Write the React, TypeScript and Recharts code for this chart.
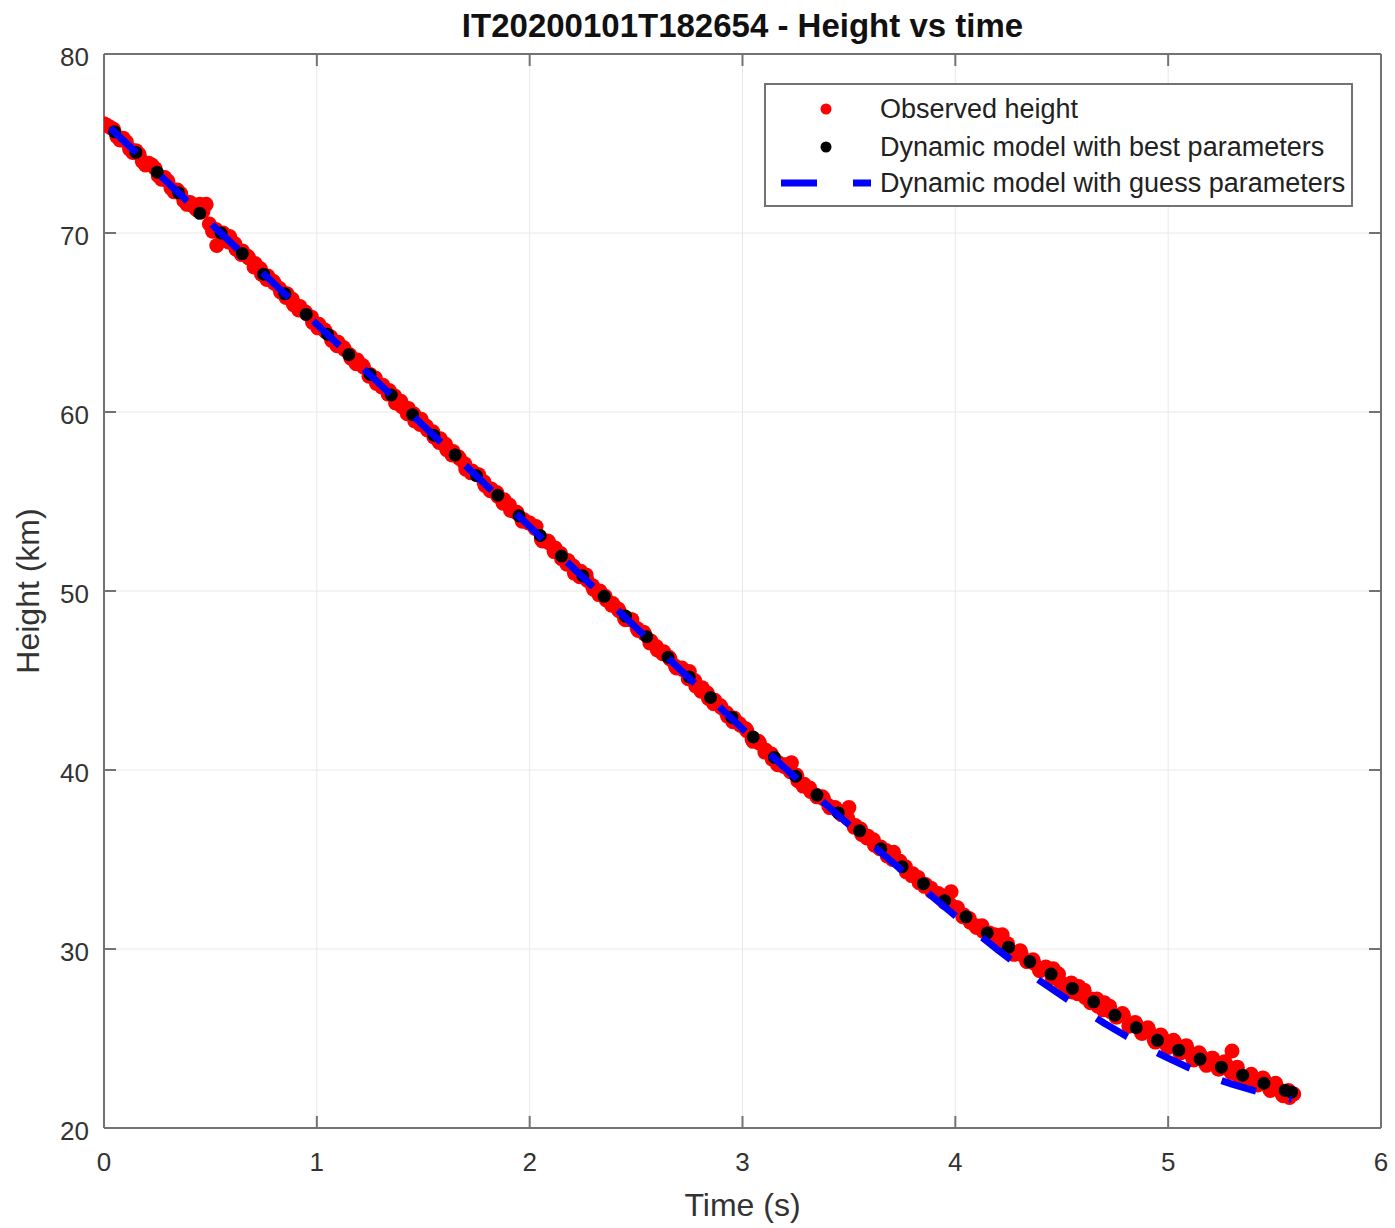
import { ScatterChart, Scatter, XAxis, YAxis, CartesianGrid, Legend, Label } from "recharts";

// time (s), height (km)
const observed: [number, number][] = [
  [0.0, 76.1], [0.03, 75.9], [0.06, 75.4], [0.09, 75.3], [0.12, 74.7], [0.15, 74.6], [0.18, 74.0], [0.21, 73.9],
  [0.24, 73.6], [0.27, 73.0], [0.3, 72.9], [0.33, 72.3], [0.36, 72.2], [0.39, 71.6], [0.42, 71.5], [0.45, 71.6],
  [0.48, 71.6], [0.51, 70.1], [0.53, 69.3], [0.56, 70.0], [0.59, 69.8], [0.62, 69.1], [0.65, 69.0], [0.68, 68.6],
  [0.71, 68.3], [0.74, 67.7], [0.77, 67.6], [0.8, 67.2], [0.83, 66.7], [0.86, 66.6], [0.89, 66.0], [0.92, 65.9],
  [0.95, 65.5], [0.98, 65.0], [1.01, 64.9], [1.04, 64.5], [1.07, 64.0], [1.1, 63.9], [1.13, 63.5], [1.16, 63.0],
  [1.19, 62.9], [1.22, 62.5], [1.25, 62.1], [1.28, 61.6], [1.31, 61.5], [1.34, 61.2], [1.37, 60.5], [1.4, 60.3],
  [1.43, 60.2], [1.46, 59.5], [1.49, 59.6], [1.52, 59.0], [1.55, 58.6], [1.58, 58.5], [1.61, 57.9], [1.64, 57.8],
  [1.67, 57.4], [1.7, 56.8], [1.73, 56.7], [1.76, 56.5], [1.79, 55.9], [1.82, 55.7], [1.85, 55.3], [1.88, 55.1],
  [1.91, 54.5], [1.94, 54.4], [1.97, 54.0], [2.0, 53.8], [2.03, 53.6], [2.06, 52.8], [2.09, 52.7], [2.12, 52.4],
  [2.15, 51.8], [2.18, 51.7], [2.21, 51.0], [2.24, 51.1], [2.27, 50.6], [2.3, 50.1], [2.33, 50.0], [2.36, 49.5],
  [2.39, 49.3], [2.42, 48.9], [2.45, 48.4], [2.48, 48.4], [2.51, 47.8], [2.54, 47.6], [2.57, 47.2], [2.6, 46.7],
  [2.63, 46.6], [2.66, 46.2], [2.69, 45.7], [2.72, 45.6], [2.75, 45.5], [2.78, 44.7], [2.81, 44.6], [2.84, 44.0],
  [2.87, 43.9], [2.9, 43.5], [2.93, 43.0], [2.96, 42.9], [2.99, 42.5], [3.02, 42.2], [3.05, 41.6], [3.08, 41.5],
  [3.11, 41.1], [3.14, 40.6], [3.17, 40.4], [3.2, 40.3], [3.23, 40.4], [3.26, 39.4], [3.29, 39.2], [3.32, 38.8],
  [3.35, 38.5], [3.38, 38.4], [3.41, 37.9], [3.44, 37.8], [3.47, 37.6], [3.5, 37.9], [3.53, 36.9], [3.56, 36.4],
  [3.59, 36.3], [3.62, 35.8], [3.65, 35.7], [3.68, 35.2], [3.71, 35.4], [3.74, 34.9], [3.77, 34.3], [3.8, 34.2],
  [3.83, 33.7], [3.86, 33.6], [3.89, 33.2], [3.92, 33.1], [3.95, 32.6], [3.98, 33.2], [4.01, 32.3], [4.04, 31.9],
  [4.07, 31.5], [4.1, 31.2], [4.13, 31.0], [4.16, 30.9], [4.19, 30.6], [4.22, 30.8], [4.25, 30.0], [4.28, 29.8],
  [4.31, 29.7], [4.34, 29.3], [4.37, 29.2], [4.4, 28.8], [4.43, 28.9], [4.46, 28.9], [4.49, 28.2], [4.52, 28.0],
  [4.55, 27.6], [4.58, 27.9], [4.61, 27.3], [4.64, 27.2], [4.67, 26.8], [4.7, 27.0], [4.73, 26.5], [4.76, 26.2],
  [4.79, 26.3], [4.82, 25.7], [4.85, 25.8], [4.88, 25.3], [4.91, 25.4], [4.94, 24.8], [4.97, 25.1], [5.0, 24.5],
  [5.03, 24.8], [5.06, 24.2], [5.09, 24.4], [5.12, 23.8], [5.15, 24.1], [5.18, 23.5], [5.21, 23.9], [5.24, 23.3],
  [5.27, 23.6], [5.3, 24.3], [5.33, 22.9], [5.36, 22.7], [5.39, 23.0], [5.42, 22.4], [5.45, 22.7], [5.48, 22.1],
  [5.51, 22.3], [5.54, 21.8], [5.57, 21.7], [5.59, 21.9],
];

// the observed samples falling between the ones above
const observedMid: [number, number][] = [
  [0.015, 76.0], [0.045, 75.8], [0.075, 75.2], [0.105, 75.1], [0.135, 74.5], [0.165, 74.4], [0.195, 73.8], [0.225, 73.8],
  [0.255, 73.2], [0.285, 73.1], [0.315, 72.5], [0.345, 72.4], [0.375, 71.8], [0.405, 71.7], [0.435, 71.3], [0.465, 71.2],
  [0.495, 70.5], [0.525, 70.2], [0.555, 69.9], [0.585, 69.5], [0.615, 69.4], [0.645, 68.8], [0.675, 68.7], [0.705, 68.1],
  [0.735, 68.0], [0.765, 67.4], [0.795, 67.3], [0.825, 66.9], [0.855, 66.4], [0.885, 66.3], [0.915, 65.7], [0.945, 65.6],
  [0.975, 65.3], [1.005, 64.7], [1.035, 64.6], [1.065, 64.2], [1.095, 63.7], [1.125, 63.6], [1.155, 63.2], [1.185, 62.7],
  [1.215, 62.6], [1.245, 62.0], [1.275, 61.9], [1.305, 61.4], [1.335, 61.0], [1.365, 60.9], [1.395, 60.6], [1.425, 59.9],
  [1.455, 59.9], [1.485, 59.3], [1.515, 59.2], [1.545, 58.9], [1.575, 58.3], [1.605, 58.2], [1.635, 57.6], [1.665, 57.5],
  [1.695, 57.1], [1.725, 56.6], [1.755, 56.5], [1.785, 56.1], [1.815, 55.6], [1.845, 55.5], [1.875, 54.9], [1.905, 54.8],
  [1.935, 54.4], [1.965, 53.9], [1.995, 53.8], [2.025, 53.5], [2.055, 52.9], [2.085, 52.8], [2.115, 52.2], [2.145, 52.1],
  [2.175, 51.5], [2.205, 51.4], [2.235, 50.8], [2.265, 50.9], [2.295, 50.3], [2.325, 49.8], [2.355, 49.7], [2.385, 49.2],
  [2.415, 49.0], [2.445, 48.5], [2.475, 48.4], [2.505, 47.9], [2.535, 47.7], [2.565, 47.1], [2.595, 46.9], [2.625, 46.5],
  [2.655, 46.3], [2.685, 45.8], [2.715, 45.7], [2.745, 45.1], [2.775, 45.0], [2.805, 44.4], [2.835, 44.3], [2.865, 43.7],
  [2.895, 43.6], [2.925, 43.2], [2.955, 42.7], [2.985, 42.6], [3.015, 42.3], [3.045, 41.7], [3.075, 41.6], [3.105, 41.0],
  [3.135, 40.9], [3.165, 40.3], [3.195, 40.2], [3.225, 39.9], [3.255, 39.7], [3.285, 39.1], [3.315, 39.0], [3.345, 38.6],
  [3.375, 38.5], [3.405, 38.0], [3.435, 37.9], [3.465, 37.5], [3.495, 37.3], [3.525, 36.8], [3.555, 36.7], [3.585, 36.2],
  [3.615, 36.1], [3.645, 35.6], [3.675, 35.5], [3.705, 35.0], [3.735, 34.9], [3.765, 34.6], [3.795, 34.1], [3.825, 34.0],
  [3.855, 33.5], [3.885, 33.4], [3.915, 33.0], [3.945, 32.9], [3.975, 32.5], [4.005, 32.3], [4.035, 31.8], [4.065, 31.7],
  [4.095, 31.3], [4.125, 31.3], [4.155, 30.7], [4.185, 30.8], [4.215, 30.3], [4.245, 30.3], [4.275, 29.7], [4.305, 29.9],
  [4.335, 29.3], [4.365, 29.4], [4.395, 28.8], [4.425, 29.0], [4.455, 28.4], [4.485, 28.6], [4.515, 27.9], [4.545, 28.1],
  [4.575, 27.5], [4.605, 27.7], [4.635, 27.0], [4.665, 27.2], [4.695, 26.6], [4.725, 26.8], [4.755, 26.2], [4.785, 26.4],
  [4.815, 25.7], [4.845, 25.9], [4.875, 25.3], [4.905, 25.6], [4.935, 24.9], [4.965, 25.2], [4.995, 24.6], [5.025, 24.9],
  [5.055, 24.2], [5.085, 24.6], [5.115, 23.9], [5.145, 24.2], [5.175, 23.6], [5.205, 23.9], [5.235, 23.3], [5.265, 23.7],
  [5.295, 23.1], [5.325, 23.4], [5.355, 22.8], [5.385, 22.9], [5.415, 22.5], [5.445, 22.8], [5.475, 22.2], [5.505, 22.5],
  [5.535, 21.9], [5.565, 22.1],
];

const bestModel: [number, number][] = [
  [0.05, 75.65], [0.15, 74.5], [0.25, 73.4], [0.35, 72.25], [0.45, 71.1], [0.55, 70.0], [0.65, 68.85], [0.75, 67.7],
  [0.85, 66.6], [0.95, 65.45], [1.05, 64.35], [1.15, 63.2], [1.25, 62.1], [1.35, 60.95], [1.45, 59.85], [1.55, 58.7],
  [1.65, 57.6], [1.75, 56.45], [1.85, 55.35], [1.95, 54.2], [2.05, 53.1], [2.15, 51.95], [2.25, 50.85], [2.35, 49.7],
  [2.45, 48.6], [2.55, 47.45], [2.65, 46.3], [2.75, 45.2], [2.85, 44.05], [2.95, 42.95], [3.05, 41.85], [3.15, 40.7],
  [3.25, 39.65], [3.35, 38.6], [3.45, 37.6], [3.55, 36.6], [3.65, 35.6], [3.75, 34.6], [3.85, 33.65], [3.95, 32.7],
  [4.05, 31.8], [4.15, 30.9], [4.25, 30.1], [4.35, 29.3], [4.45, 28.6], [4.55, 27.8], [4.65, 27.05], [4.75, 26.3],
  [4.85, 25.6], [4.95, 24.9], [5.05, 24.35], [5.15, 23.85], [5.25, 23.4], [5.35, 22.95], [5.45, 22.5], [5.55, 22.1],
  [5.58, 22.0],
];

const guessModel: [number, number][] = [
  [0.03, 75.86], [0.5, 70.55], [1.0, 64.9], [1.5, 59.25], [2.0, 53.6], [2.5, 47.95], [3.0, 42.3], [3.1, 41.2],
  [3.2, 40.1], [3.3, 39.05], [3.4, 38.0], [3.5, 36.95], [3.6, 35.9], [3.7, 34.9], [3.8, 33.85], [3.9, 32.85],
  [4.0, 31.85], [4.1, 30.9], [4.2, 29.95], [4.3, 29.05], [4.4, 28.2], [4.5, 27.4], [4.6, 26.6], [4.7, 25.85],
  [4.8, 25.15], [4.9, 24.5], [5.0, 23.9], [5.1, 23.35], [5.2, 22.85], [5.3, 22.45], [5.4, 22.1], [5.5, 21.8],
  [5.58, 21.6],
];

const xTicks = [0, 1, 2, 3, 4, 5, 6];
const yTicks = [20, 30, 40, 50, 60, 70, 80];
const legendNames = [
  "Observed height",
  "Dynamic model with best parameters",
  "Dynamic model with guess parameters",
];
const title = "IT20200101T182654 - Height vs time";

const AXIS = "#737373";
const TEXT = "#333333";
const TICK_LEN = 12;

const toPoints = (pairs: [number, number][]) => pairs.map(([t, h]) => ({ t, h }));

const XTick = (p: any) => (
  <g>
    <line x1={p.x} x2={p.x} y1={p.y} y2={p.y - TICK_LEN} stroke={AXIS} strokeWidth={2} />
    <text x={p.x} y={p.y + 43} textAnchor="middle" fontSize={26} fill={TEXT}>
      {p.payload.value}
    </text>
  </g>
);

const YTick = (p: any) => (
  <g>
    <line x1={p.x} x2={p.x + TICK_LEN} y1={p.y} y2={p.y} stroke={AXIS} strokeWidth={2} />
    <text x={p.x - 15} y={p.y + 12} textAnchor="end" fontSize={26} fill={TEXT}>
      {p.payload.value}
    </text>
  </g>
);

const TopTick = (p: any) => (
  <line x1={p.x} x2={p.x} y1={p.y} y2={p.y + TICK_LEN} stroke={AXIS} strokeWidth={2} />
);

const RightTick = (p: any) => (
  <line x1={p.x} x2={p.x - TICK_LEN} y1={p.y} y2={p.y} stroke={AXIS} strokeWidth={2} />
);

const redDot = (p: any) => <circle cx={p.cx} cy={p.cy} r={7.5} fill="#ff0000" />;
const blackDot = (p: any) => <circle cx={p.cx} cy={p.cy} r={6.5} fill="#000000" />;

function LegendBox() {
  const rows = [26, 64, 100];
  return (
    <svg width={589} height={124} style={{ display: "block" }}>
      <rect x={1} y={1} width={587} height={122} fill="#ffffff" stroke={AXIS} strokeWidth={2} />
      <circle cx={62} cy={rows[0]} r={5.5} fill="#ff0000" />
      <circle cx={62} cy={rows[1]} r={5.5} fill="#000000" />
      <line x1={17} x2={107} y1={rows[2]} y2={rows[2]} stroke="#0000ff" strokeWidth={7} strokeDasharray="36 36" />
      {legendNames.map((name, i) => (
        <text key={name} x={116} y={rows[i] + 9} fontSize={27} fill="#222222">
          {name}
        </text>
      ))}
    </svg>
  );
}

export default function App() {
  return (
    <div
      style={{
        position: "absolute",
        left: 0,
        top: 0,
        width: 1395,
        height: 1228,
        background: "#ffffff",
        fontFamily: '"Liberation Sans", Arial, sans-serif',
      }}
    >
      <ScatterChart width={1395} height={1228} margin={{ top: 53, right: 13, bottom: 0, left: 0 }}>
        <CartesianGrid stroke="#e8e8e8" strokeWidth={1} />
        <XAxis
          type="number"
          dataKey="t"
          domain={[0, 6]}
          ticks={xTicks}
          interval={0}
          height={100}
          tickSize={0}
          tickMargin={0}
          tick={XTick}
          axisLine={{ stroke: AXIS, strokeWidth: 2 }}
          allowDataOverflow
        >
          <Label value="Time (s)" position="insideBottom" offset={12} fontSize={32} fill={TEXT} />
        </XAxis>
        <YAxis
          type="number"
          dataKey="h"
          domain={[20, 80]}
          ticks={yTicks}
          interval={0}
          width={104}
          tickSize={0}
          tickMargin={0}
          tick={YTick}
          axisLine={{ stroke: AXIS, strokeWidth: 2 }}
          allowDataOverflow
        >
          <Label
            value="Height (km)"
            angle={-90}
            position="insideLeft"
            offset={28}
            fontSize={32}
            fill={TEXT}
            style={{ textAnchor: "middle" }}
          />
        </YAxis>
        <XAxis
          xAxisId="top"
          orientation="top"
          type="number"
          dataKey="t"
          domain={[0, 6]}
          ticks={xTicks}
          interval={0}
          height={1}
          tickSize={0}
          tickMargin={0}
          tick={TopTick}
          axisLine={{ stroke: AXIS, strokeWidth: 2 }}
          allowDataOverflow
        >
          <Label value={title} position="top" offset={16} fontSize={33} fontWeight="bold" fill="#111111" />
        </XAxis>
        <YAxis
          yAxisId="right"
          orientation="right"
          type="number"
          dataKey="h"
          domain={[20, 80]}
          ticks={yTicks}
          interval={0}
          width={1}
          tickSize={0}
          tickMargin={0}
          tick={RightTick}
          axisLine={{ stroke: AXIS, strokeWidth: 2 }}
          allowDataOverflow
        />
        <Scatter
          name={legendNames[0]}
          data={toPoints([...observed, ...observedMid])}
          dataKey="h"
          fill="#ff0000"
          shape={redDot}
          isAnimationActive={false}
        />
        <Scatter
          name={legendNames[1]}
          data={toPoints(bestModel)}
          dataKey="h"
          fill="#000000"
          shape={blackDot}
          isAnimationActive={false}
        />
        <Scatter
          name={legendNames[2]}
          data={toPoints(guessModel)}
          dataKey="h"
          xAxisId="top"
          yAxisId="right"
          fill="#0000ff"
          line={{ stroke: "#0000ff", strokeWidth: 7, strokeDasharray: "36 34" }}
          lineType="joint"
          shape={() => <g />}
          isAnimationActive={false}
        />
        <Legend
          layout="horizontal"
          verticalAlign="middle"
          align="center"
          wrapperStyle={{ left: 764, top: 83, width: 589, height: 124 }}
          content={() => <LegendBox />}
        />
      </ScatterChart>
    </div>
  );
}
